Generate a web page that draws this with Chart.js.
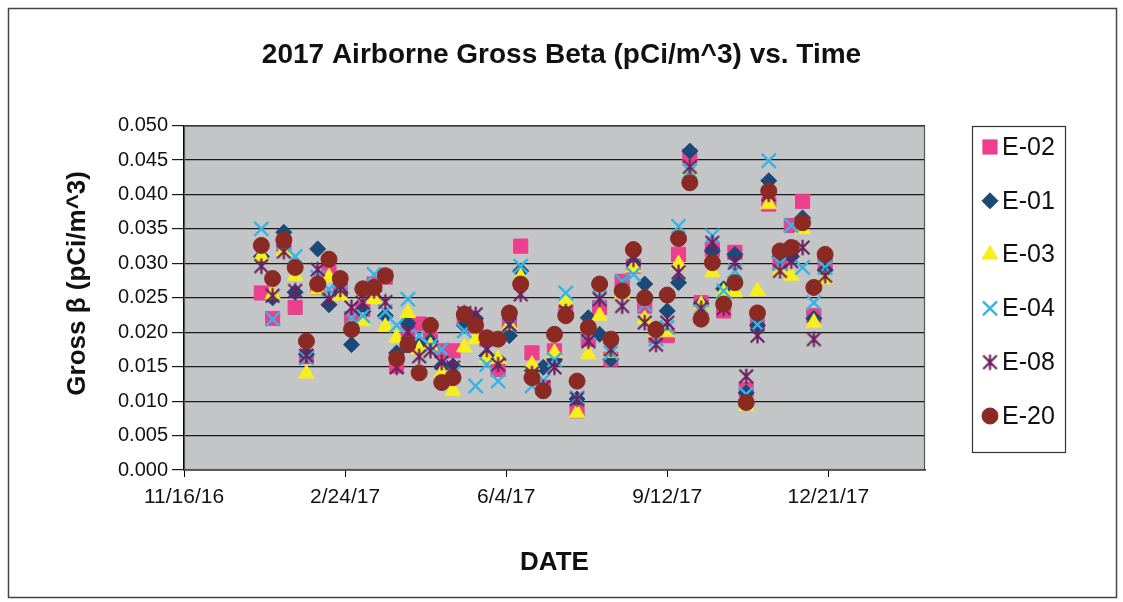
<!DOCTYPE html>
<html><head><meta charset="utf-8">
<script src="https://cdn.jsdelivr.net/npm/chart.js@4.4.1/dist/chart.umd.min.js"></script>
<style>html,body{margin:0;padding:0;background:#fff}#wrap{width:1123px;height:602px;position:relative}</style>
</head><body><div id="wrap"><canvas id="c" width="1123" height="602"></canvas></div>
<script>
// ---- data ----
const dates = ['1/3/17','1/10/17','1/17/17','1/24/17','1/31/17','2/7/17','2/14/17','2/21/17','2/28/17','3/7/17',
 '3/14/17','3/21/17','3/28/17','4/4/17','4/11/17','4/18/17','4/25/17','5/2/17','5/9/17','5/16/17',
 '5/23/17','5/30/17','6/6/17','6/13/17','6/20/17','6/27/17','7/4/17','7/11/17','7/18/17','7/25/17',
 '8/1/17','8/8/17','8/15/17','8/22/17','8/29/17','9/5/17','9/12/17','9/19/17','9/26/17','10/3/17',
 '10/10/17','10/17/17','10/24/17','10/31/17','11/7/17','11/14/17','11/21/17','11/28/17','12/5/17','12/12/17','12/19/17'];
const seriesNames = ['E-02','E-01','E-03','E-04','E-08','E-20'];
const e02 = [0.0257,0.0220,0.0328,0.0236,0.0165,0.0265,0.0287,0.0260,0.0220,0.0233,
 0.0270,0.0280,0.0151,0.0190,0.0212,0.0190,0.0173,0.0173,0.0219,0.0210,
 0.0190,0.0146,0.0214,0.0325,0.0170,0.0120,0.0173,0.0230,0.0086,0.0190,
 0.0236,0.0161,0.0274,0.0296,0.0238,0.0195,0.0195,0.0313,0.0456,0.0243,
 0.0320,0.0231,0.0316,0.0117,0.0215,0.0386,0.0300,0.0355,0.0390,0.0224,0.0301];
const e01 = [0.0310,0.0250,0.0345,0.0258,0.0168,0.0321,0.0240,0.0257,0.0182,0.0230,
 0.0260,0.0224,0.0170,0.0213,0.0180,0.0187,0.0150,0.0151,0.0210,0.0220,
 0.0166,0.0160,0.0195,0.0289,0.0145,0.0149,0.0160,0.0228,0.0103,0.0221,
 0.0197,0.0161,0.0260,0.0300,0.0270,0.0205,0.0231,0.0272,0.0463,0.0241,
 0.0318,0.0263,0.0313,0.0112,0.0210,0.0420,0.0310,0.0310,0.0366,0.0220,0.0290];
const e03 = [0.0310,0.0255,0.0318,0.0282,0.0140,0.0262,0.0280,0.0253,0.0210,0.0216,
 0.0248,0.0208,0.0192,0.0228,0.0175,0.0180,0.0141,0.0115,0.0178,0.0190,
 0.0163,0.0161,0.0210,0.0280,0.0153,0.0120,0.0170,0.0245,0.0083,0.0168,
 0.0224,0.0170,0.0255,0.0294,0.0219,0.0200,0.0200,0.0299,0.0432,0.0240,
 0.0287,0.0258,0.0258,0.0093,0.0260,0.0386,0.0289,0.0282,0.0350,0.0214,0.0277];
const e04 = [0.0350,0.0219,0.0330,0.0310,0.0163,0.0280,0.0262,0.0275,0.0220,0.0224,
 0.0284,0.0230,0.0210,0.0248,0.0195,0.0180,0.0175,0.0140,0.0202,0.0122,
 0.0153,0.0129,0.0210,0.0296,0.0122,0.0130,0.0160,0.0257,0.0105,0.0200,
 0.0250,0.0170,0.0274,0.0284,0.0240,0.0190,0.0207,0.0354,0.0434,0.0230,
 0.0340,0.0260,0.0289,0.0110,0.0211,0.0449,0.0300,0.0355,0.0294,0.0243,0.0294];
const e08 = [0.0296,0.0253,0.0317,0.0260,0.0166,0.0291,0.0248,0.0262,0.0236,0.0243,
 0.0260,0.0244,0.0149,0.0200,0.0165,0.0173,0.0156,0.0149,0.0228,0.0226,
 0.0175,0.0153,0.0211,0.0255,0.0140,0.0120,0.0149,0.0230,0.0103,0.0187,
 0.0248,0.0175,0.0238,0.0306,0.0214,0.0182,0.0214,0.0287,0.0440,0.0235,
 0.0330,0.0235,0.0301,0.0136,0.0195,0.0400,0.0289,0.0303,0.0323,0.0190,0.0282];
const e20 = [0.0326,0.0278,0.0334,0.0294,0.0187,0.0270,0.0306,0.0278,0.0204,0.0263,
 0.0265,0.0282,0.0162,0.0182,0.0141,0.0210,0.0127,0.0134,0.0226,0.0210,
 0.0192,0.0190,0.0228,0.0270,0.0134,0.0115,0.0197,0.0224,0.0129,0.0207,
 0.0270,0.0190,0.0260,0.0320,0.0250,0.0204,0.0254,0.0336,0.0417,0.0219,
 0.0301,0.0241,0.0272,0.0098,0.0228,0.0405,0.0318,0.0323,0.0359,0.0265,0.0313];
const xTickLabels = ['11/16/16','2/24/17','6/4/17','9/12/17','12/21/17'];
const xRange = ['11/16/16','2/19/18'];
const yTickStep = 0.005;

// ---- helpers ----
function toDay(s){const [m,d,y]=s.split('/').map(Number);return Date.UTC(2000+y,m-1,d)/86400000;}
function starImg(color){
  const s=17,c=document.createElement('canvas');c.width=s;c.height=s;
  const g=c.getContext('2d');g.strokeStyle=color;g.lineWidth=2.2;g.lineCap='butt';
  const m=s/2,r=6.8;g.beginPath();
  g.moveTo(m-r,m-r);g.lineTo(m+r,m+r);g.moveTo(m+r,m-r);g.lineTo(m-r,m+r);
  g.moveTo(m,m-r-1);g.lineTo(m,m+r+1);g.stroke();return c;
}
const styles = [
  {color:'#ec3f8e', pointStyle:'rect',     radius:10,  bw:1},
  {color:'#1b4a78', pointStyle:'rectRot',  radius:8,   bw:1},
  {color:'#f7ee1e', pointStyle:'triangle', radius:9,   bw:1},
  {color:'#37b4e6', pointStyle:'crossRot', radius:10,  bw:2.4},
  {color:'#6b2160', pointStyle:starImg('#6b2160'), radius:8.5, bw:1},
  {color:'#8b2a22', pointStyle:'circle',   radius:8, bw:1}
];
const values = [e02,e01,e03,e04,e08,e20];
const datasets = seriesNames.map((n,i)=>({
  label:n,
  data: dates.map((d,k)=>({x:toDay(d), y:values[i][k]})),
  pointStyle: styles[i].pointStyle,
  pointRadius: styles[i].radius,
  pointHoverRadius: styles[i].radius,
  pointBackgroundColor: styles[i].color,
  pointBorderColor: styles[i].color,
  pointBorderWidth: styles[i].bw,
  showLine:false,
  order: seriesNames.length-1-i
}));

const FONT='"Liberation Sans", Arial, sans-serif';
const deco = {
  id:'deco',
  beforeDraw(chart){
    const {ctx,chartArea:a}=chart;
    ctx.save();
    ctx.fillStyle='#fff';ctx.fillRect(0,0,chart.width,chart.height);
    ctx.fillStyle='#c4c5c6';ctx.fillRect(a.left,a.top,a.right-a.left,a.bottom-a.top);
    ctx.restore();
  },
  afterDraw(chart){
    const {ctx,chartArea:a}=chart;
    ctx.save();
    ctx.strokeStyle='#555';ctx.lineWidth=1.2;
    ctx.strokeRect(a.left+0.5,a.top+0.5,a.right-a.left-1,a.bottom-a.top-1);
    // outer frame
    ctx.strokeStyle='#444';ctx.lineWidth=1.5;
    ctx.strokeRect(8.5,8.5,1108,589);
    // legend
    const bx=972.5,by=126.5,bw=93,bh=326;
    ctx.fillStyle='#fff';ctx.fillRect(bx,by,bw,bh);
    ctx.strokeStyle='#333';ctx.lineWidth=1.2;ctx.strokeRect(bx,by,bw,bh);
    ctx.font='25px '+FONT;ctx.textBaseline='middle';ctx.textAlign='left';
    chart.data.datasets.forEach((ds,i)=>{
      const y=147+i*53.8;
      ctx.fillStyle=styles[i].color;ctx.strokeStyle=styles[i].color;ctx.lineWidth=styles[i].bw;
      Chart.helpers.drawPoint(ctx,{pointStyle:styles[i].pointStyle,radius:styles[i].radius,rotation:0,borderWidth:styles[i].bw},990,y);
      ctx.fillStyle='#111';ctx.fillText(ds.label,1002,y+1);
    });
    ctx.restore();
  }
};

new Chart(document.getElementById('c'),{
  type:'scatter',
  data:{datasets},
  options:{
    responsive:false,animation:false,devicePixelRatio:1,
    layout:{padding:{left:0,right:0,top:0,bottom:0}},
    plugins:{
      legend:{display:false},tooltip:{enabled:false},
      title:{display:true,text:'2017 Airborne Gross Beta (pCi/m^3) vs. Time',color:'#111',
        font:{family:FONT,size:28,weight:'bold'},padding:{top:38,bottom:54}}
    },
    scales:{
      x:{type:'linear',min:toDay(xRange[0]),max:toDay(xRange[1]),
        afterBuildTicks(s){s.ticks=xTickLabels.map(t=>({value:toDay(t)}));},
        afterFit(s){s.height=132;},
        ticks:{autoSkip:false,maxRotation:0,color:'#111',padding:8,font:{family:FONT,size:21},
          callback:(v,i)=>xTickLabels[i]},
        grid:{drawOnChartArea:false,drawTicks:true,tickLength:7,color:'#000'},
        border:{display:true,color:'#000',width:1.5},
        title:{display:true,text:'DATE',color:'#111',font:{family:FONT,size:26,weight:'bold'},padding:{top:0,bottom:24}}
      },
      y:{min:0,max:0.05,
        ticks:{stepSize:yTickStep,color:'#111',padding:4,font:{family:FONT,size:20},callback:v=>v.toFixed(3)},
        afterFit(s){s.width=184;},
        grid:{color:'#1a1a1a',lineWidth:1.2,tickLength:12,drawTicks:true},
        border:{display:true,color:'#000',width:1.5},
        title:{display:true,text:'    Gross β (pCi/m^3)',color:'#111',font:{family:FONT,size:26,weight:'bold'},padding:{top:62,bottom:0}}
      },
      yRight:{type:'linear',position:'right',display:true,
        ticks:{display:false},grid:{display:false,drawTicks:false},border:{display:false},
        afterFit(s){s.width=198;}
      }
    }
  },
  plugins:[deco]
});
</script></body></html>
